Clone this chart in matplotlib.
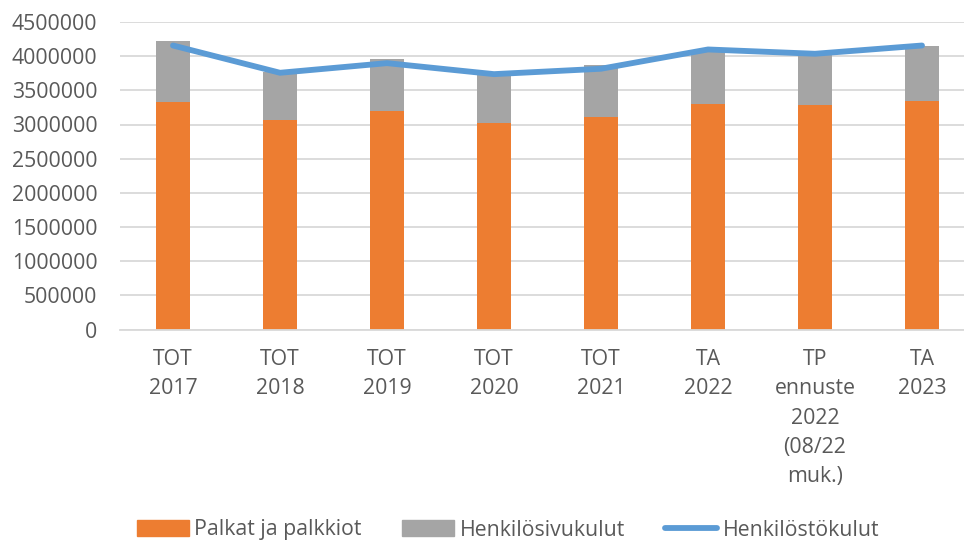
import matplotlib
matplotlib.use("Agg")
import matplotlib.pyplot as plt
from matplotlib.lines import Line2D
from matplotlib.patches import Patch

categories = ["TOT\n2017", "TOT\n2018", "TOT\n2019", "TOT\n2020", "TOT\n2021",
              "TA\n2022", "TP\nennuste\n2022\n(08/22\nmuk.)", "TA\n2023"]
palkat = [3327000, 3070000, 3202000, 3026000, 3114000, 3298000, 3284000, 3342000]
sivukulut = [902000, 696000, 750000, 717000, 760000, 785000, 751000, 810000]
henkilostokulut = [4156000, 3757000, 3898000, 3737000, 3816000, 4098000, 4035000, 4156000]
yticks = [0, 500000, 1000000, 1500000, 2000000, 2500000, 3000000, 3500000, 4000000, 4500000]

plt.rcParams['font.family'] = ['Open Sans', 'DejaVu Sans']
txt = '#595959'
fs = 15.3

fig = plt.figure(figsize=(9.64, 5.42), dpi=100)
W, H = 964, 542
left, right, top, bottom = 119.5, 975.5, 22, 329.5
ax = fig.add_axes([left / W, 1 - bottom / H, (right - left) / W, (bottom - top) / H])

x = list(range(len(categories)))
bw = 0.32
ax.bar(x, palkat, width=bw, color='#ED7D31', zorder=2)
ax.bar(x, sivukulut, width=bw, bottom=palkat, color='#A5A5A5', zorder=2)
ax.plot(x, henkilostokulut, color='#5B9BD5', lw=4.2, solid_capstyle='round', zorder=3)

ax.set_xlim(-0.5, len(categories) - 0.5)
ax.set_ylim(0, 4500000)
ax.set_yticks(yticks)
ax.set_yticklabels([str(v) for v in yticks])
ax.set_xticks(x)
ax.set_xticklabels(categories, linespacing=1.52)
ax.grid(axis='y', color='#D9D9D9', lw=1.3, zorder=0)
for s in ['top', 'right', 'left']:
    ax.spines[s].set_visible(False)
ax.spines['bottom'].set_color('#D9D9D9')
ax.spines['bottom'].set_linewidth(1.3)
ax.tick_params(axis='both', length=0, labelsize=fs, colors=txt)
ax.tick_params(axis='y', pad=16)
ax.tick_params(axis='x', pad=14)

handles = [Patch(color='#ED7D31', label='Palkat ja palkkiot'),
           Patch(color='#A5A5A5', label='Henkilösivukulut'),
           Line2D([0], [0], color='#5B9BD5', lw=4.2, solid_capstyle='round', label='Henkilöstökulut')]
fig.legend(handles=handles, loc='center', bbox_to_anchor=(0.527, 1 - 530 / H), ncol=3,
           frameon=False, fontsize=fs, labelcolor=txt, handlelength=2.45,
           handleheight=0.8, columnspacing=1.9, handletextpad=0.25)

fig.savefig('out.png', dpi=100)
